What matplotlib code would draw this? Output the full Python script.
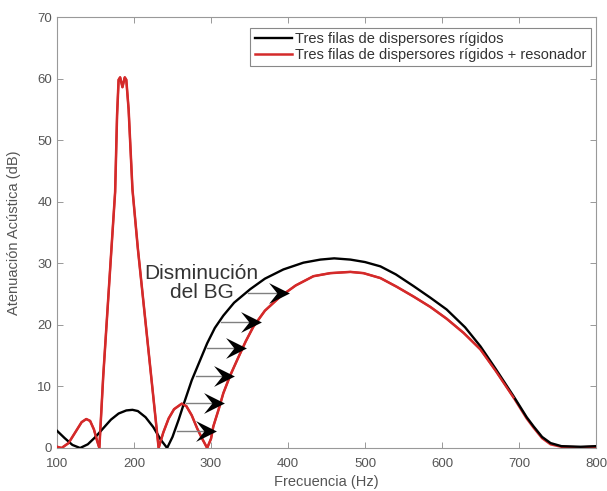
import numpy as np
import matplotlib.pyplot as plt
from matplotlib.path import Path

plt.rcParams['font.family'] = ['Liberation Sans', 'DejaVu Sans']

# Tres filas de dispersores rígidos (negro)
f_black = [100, 110, 120, 130, 140, 150, 160, 170, 180, 190, 198, 205, 215, 225, 235, 243,
           250, 258, 265, 275, 285, 295, 305, 316, 330, 351, 370, 394, 420, 442, 460, 481,
           500, 520, 540, 563, 585, 606, 630, 650, 670, 693, 710, 719, 730, 741, 755, 780, 800]
db_black = [2.8, 1.6, 0.5, 0.0, 0.6, 1.8, 3.2, 4.6, 5.6, 6.1, 6.2, 6.0, 5.0, 3.4, 1.3, 0.0,
            1.8, 4.6, 7.3, 11.0, 14.0, 17.0, 19.5, 21.5, 23.6, 25.8, 27.5, 29.0, 30.1, 30.6, 30.8, 30.6,
            30.2, 29.5, 28.2, 26.3, 24.4, 22.5, 19.6, 16.5, 12.8, 8.4, 5.0, 3.5, 1.8, 0.8, 0.3, 0.2, 0.3]

# Tres filas de dispersores rígidos + resonador (rojo)
f_red = [100, 106, 115, 125, 132, 138, 143, 148, 152, 155, 160, 165, 170, 175.5, 178, 180,
         182, 185, 188, 190, 193, 198, 205, 212, 220, 227, 232,
         238, 245, 252, 262, 268, 275, 282, 289, 295, 300, 303, 310, 316, 325, 334, 345, 355,
         370, 390, 410, 433, 455, 481, 498, 520, 541, 563, 585, 606, 628, 650, 670, 693,
         710, 719, 730, 741, 755, 780, 800]
db_red = [0.2, 0.0, 0.8, 2.8, 4.2, 4.7, 4.4, 3.0, 1.2, 0.0, 11.6, 21.3, 31.0, 41.6, 54.0, 59.8,
          60.2, 58.6, 60.2, 59.8, 55.0, 42.0, 32.4, 24.0, 14.4, 6.0, 0.0,
          2.5, 4.8, 6.3, 7.2, 6.8, 5.3, 3.2, 1.4, 0.0, 1.5, 3.5, 6.3, 8.9, 11.8, 14.3, 17.3, 19.7,
          22.3, 24.6, 26.4, 27.9, 28.4, 28.6, 28.4, 27.6, 26.2, 24.6, 22.9, 21.0, 18.7, 16.0, 12.5, 8.2,
          4.8, 3.3, 1.6, 0.6, 0.2, 0.1, 0.2]

# niveles de las flechas (dB)
arrow_levels = [2.7, 7.3, 11.7, 16.2, 20.5, 25.2]

label_black = "Tres filas de dispersores rígidos"
label_red = "Tres filas de dispersores rígidos + resonador"

fig = plt.figure(figsize=(6.07, 4.91), dpi=100)
ax = fig.add_axes([57 / 607, 1 - 448 / 491, 539 / 607, 431 / 491])

ax.plot(f_red, db_red, color="#d42a2a", lw=1.8, label=label_red, zorder=3)
ax.plot(f_black, db_black, color="black", lw=1.7, label=label_black, zorder=4)
# redraw red on the parts where it is apart from black
ax.plot(f_red[:60], db_red[:60], color="#d42a2a", lw=1.5, zorder=5)

# arrows: from the black rising branch to the red rising branch
fb = np.array(f_black)
yb = np.array(db_black)
fr = np.array(f_red)
yr = np.array(db_red)
mb = (fb >= 243) & (fb <= 460)
mr = (fr >= 295) & (fr <= 481)
chevron = Path([(-1.0, 1.0), (1.0, 0.0), (-1.0, -1.0), (-0.2, 0.0), (-1.0, 1.0)],
               [Path.MOVETO, Path.LINETO, Path.LINETO, Path.LINETO, Path.CLOSEPOLY])
for lev in arrow_levels:
    x0 = np.interp(lev, yb[mb], fb[mb]) + 3
    x1 = np.interp(lev, yr[mr], fr[mr])
    ax.plot([x0, x1 - 6], [lev, lev], color="#808080", lw=1.0, zorder=6)
    ax.plot([x1 - 8], [lev], marker=chevron, markersize=15, color="black",
            markeredgewidth=0, zorder=7)

ax.text(288, 26.8, "Disminución\ndel BG", ha="center", va="center",
        fontsize=15, color="#333333", linespacing=1.05, zorder=8)

ax.set_xlim(100, 800)
ax.set_ylim(0, 70)
ax.set_xticks(np.arange(100, 801, 100))
ax.set_yticks(np.arange(0, 71, 10))
ax.tick_params(direction="in", top=True, right=True, length=4, width=0.6,
               colors="#888888", labelcolor="#555555", labelsize=9.5)
ax.tick_params(axis="x", pad=7)
for s in ax.spines.values():
    s.set_color("#999999")
    s.set_linewidth(0.8)

ax.set_xlabel("Frecuencia (Hz)", fontsize=10.5, color="#555555", labelpad=4)
ax.set_ylabel("Atenuación Acústica (dB)", fontsize=10.5, color="#555555", labelpad=12)

leg = ax.legend(handles=ax.get_lines()[1::-1], loc="upper right",
                bbox_to_anchor=(0.991, 0.975), borderaxespad=0, fontsize=10.5,
                fancybox=False, framealpha=1, edgecolor="#888888",
                handlelength=2.6, handletextpad=0.2, labelspacing=0.12, borderpad=0.3)
leg.get_frame().set_linewidth(0.8)
for t in leg.get_texts():
    t.set_color("#333333")

fig.savefig("out.png", dpi=100)
